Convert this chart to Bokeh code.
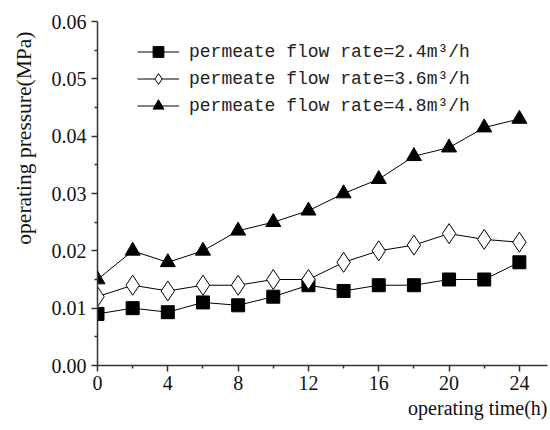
from bokeh.plotting import figure
from bokeh.models import Range1d, FixedTicker, NumeralTickFormatter, Legend, LegendItem, Title
from bokeh.embed import file_html
from bokeh.resources import INLINE

time_h = [0, 2, 4, 6, 8, 10, 12, 14, 16, 18, 20, 22, 24]
p_24 = [0.009, 0.010, 0.0093, 0.011, 0.0105, 0.012, 0.014, 0.013, 0.014, 0.014, 0.015, 0.015, 0.018]
p_36 = [0.012, 0.014, 0.013, 0.014, 0.014, 0.015, 0.015, 0.018, 0.020, 0.021, 0.023, 0.022, 0.0215]
p_48 = [0.015, 0.020, 0.018, 0.020, 0.0235, 0.025, 0.027, 0.030, 0.0325, 0.0365, 0.038, 0.0415, 0.043]
labels = ["permeate flow rate=2.4m\u00b3/h", "permeate flow rate=3.6m\u00b3/h", "permeate flow rate=4.8m\u00b3/h"]
x_ticks = [0, 4, 8, 12, 16, 20, 24]
y_ticks = [0.00, 0.01, 0.02, 0.03, 0.04, 0.05, 0.06]

p = figure(width=548, height=428, output_backend="svg", toolbar_location=None,
           x_range=Range1d(0, 25.6), y_range=Range1d(0, 0.06),
           min_border_left=97, min_border_right=1, min_border_top=21, min_border_bottom=63)
p.outline_line_color = None
p.grid.visible = False
p.background_fill_color = "white"
p.border_fill_color = "white"

axis_col = "#333333"
for ax in (p.xaxis[0], p.yaxis[0]):
    ax.axis_line_color = axis_col
    ax.axis_line_width = 1.5
    ax.major_tick_line_color = axis_col
    ax.minor_tick_line_color = axis_col
    ax.major_tick_line_width = 1.5
    ax.minor_tick_line_width = 1.5
    ax.major_tick_out = 6
    ax.major_tick_in = 0
    ax.minor_tick_out = 3
    ax.minor_tick_in = 0
    ax.major_label_text_font = "Liberation Serif"
    ax.major_label_text_font_size = "20px"
    ax.major_label_text_color = "#111111"

p.xaxis[0].ticker = FixedTicker(ticks=x_ticks, minor_ticks=[2, 6, 10, 14, 18, 22])
p.yaxis[0].ticker = FixedTicker(ticks=y_ticks, minor_ticks=[0.005, 0.015, 0.025, 0.035, 0.045, 0.055])
p.yaxis[0].formatter = NumeralTickFormatter(format="0.00")
p.xaxis[0].major_label_standoff = 4
p.yaxis[0].major_label_standoff = 5

r1l = p.line(time_h, p_24, line_color="black", line_width=1)
r1m = p.scatter(time_h, p_24, marker="square", size=13, fill_color="black", line_color="black")
r2l = p.line(time_h, p_36, line_color="black", line_width=1)
r2m = p.scatter(time_h, p_36, marker="diamond", size=20, fill_color="white", line_color="black")
r3l = p.line(time_h, p_48, line_color="black", line_width=1)
r3m = p.scatter(time_h, p_48, marker="triangle", size=15, fill_color="black", line_color="black")

legend = Legend(items=[LegendItem(label=labels[0], renderers=[r1l, r1m]),
                       LegendItem(label=labels[1], renderers=[r2l, r2m]),
                       LegendItem(label=labels[2], renderers=[r3l, r3m])],
                location=(40, 246), padding=0, margin=0, spacing=0,
                glyph_width=42, glyph_height=27, label_height=27, label_standoff=10,
                label_text_font="Liberation Mono", label_text_font_size="18px",
                label_text_color="#222222",
                border_line_color=None, background_fill_alpha=0)
p.add_layout(legend, "center")

xt = Title(text="operating time(h)", align="right", vertical_align="bottom",
           text_font="Liberation Serif", text_font_size="20px", text_font_style="normal",
           text_color="#111111", standoff=5, offset=0)
p.add_layout(xt, "below")

yt = Title(text="operating pressure(MPa)", align="right", vertical_align="top",
           text_font="Liberation Serif", text_font_size="21.5px", text_font_style="normal",
           text_color="#111111", standoff=21, offset=10)
p.add_layout(yt, "left")

open("out.html", "w").write(file_html(p, INLINE))
